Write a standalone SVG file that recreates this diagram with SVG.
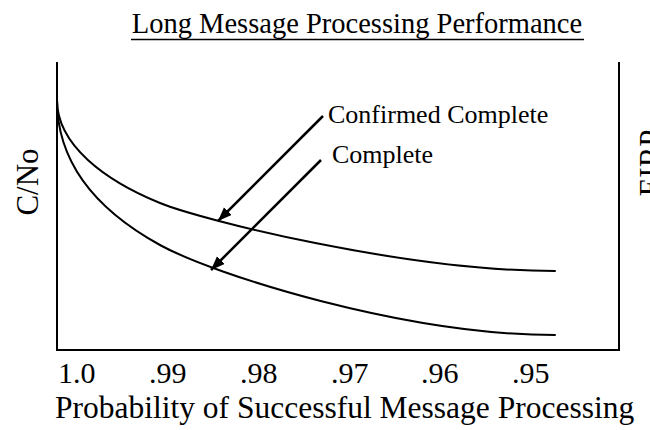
<svg xmlns="http://www.w3.org/2000/svg" width="650" height="430" viewBox="0 0 650 430">
<defs>
<style>
.t{font-family:"Liberation Serif","Times New Roman",serif;fill:#000}
.ax{stroke:#000;stroke-width:2;fill:none}
.cv{stroke:#000;stroke-width:2;fill:none;stroke-linecap:round}
.ar{stroke:#000;stroke-width:2.5;fill:none}
</style>
<marker id="ah" markerUnits="userSpaceOnUse" markerWidth="16" markerHeight="12" refX="14" refY="5.5" orient="auto">
<path d="M0,0 L14,5.5 L0,11 z" fill="#000"/>
</marker>
</defs>
<rect width="650" height="430" fill="#fff"/>
<g id="title">
<text class="t" x="357" y="33" font-size="28.5" text-anchor="middle">Long Message Processing Performance</text>
<line x1="131" y1="39.5" x2="584" y2="39.5" stroke="#000" stroke-width="1.6"/>
</g>
<g id="axes">
<path class="ax" d="M57,62 V350 H619 V62"/>
</g>
<g id="y-label">
<text class="t" font-size="31" text-anchor="middle" transform="translate(38,182) rotate(-90)">C/No</text>
</g>
<g id="y2-label">
<text class="t" font-size="31" text-anchor="middle" transform="translate(661,163) rotate(-90)">EIRP</text>
</g>
<g id="ticks" class="t" font-size="30">
<text x="58" y="383">1.0</text>
<text x="149" y="383">.99</text>
<text x="240" y="383">.98</text>
<text x="331" y="383">.97</text>
<text x="421" y="383">.96</text>
<text x="512" y="383">.95</text>
</g>
<g id="x-label">
<text class="t" x="55" y="418" font-size="31.5">Probability of Successful Message Processing</text>
</g>
<g id="curve-confirmed">
<path class="cv" d="M57,100 C57,145 105,180.5 160,203 C201,219.8 405,271 555,271"/>
</g>
<g id="curve-complete">
<path class="cv" d="M57,100 C57,170 105,214.75 160,245 C214.5,275 405,335 555,335"/>
</g>
<g id="label-confirmed">
<text class="t" x="328" y="123" font-size="26">Confirmed Complete</text>
</g>
<g id="label-complete">
<text class="t" x="332" y="163" font-size="26">Complete</text>
</g>
<g id="connectors">
<line class="ar" x1="323" y1="116" x2="218" y2="221" marker-end="url(#ah)"/>
<line class="ar" x1="321" y1="160" x2="211" y2="270" marker-end="url(#ah)"/>
</g>
</svg>
